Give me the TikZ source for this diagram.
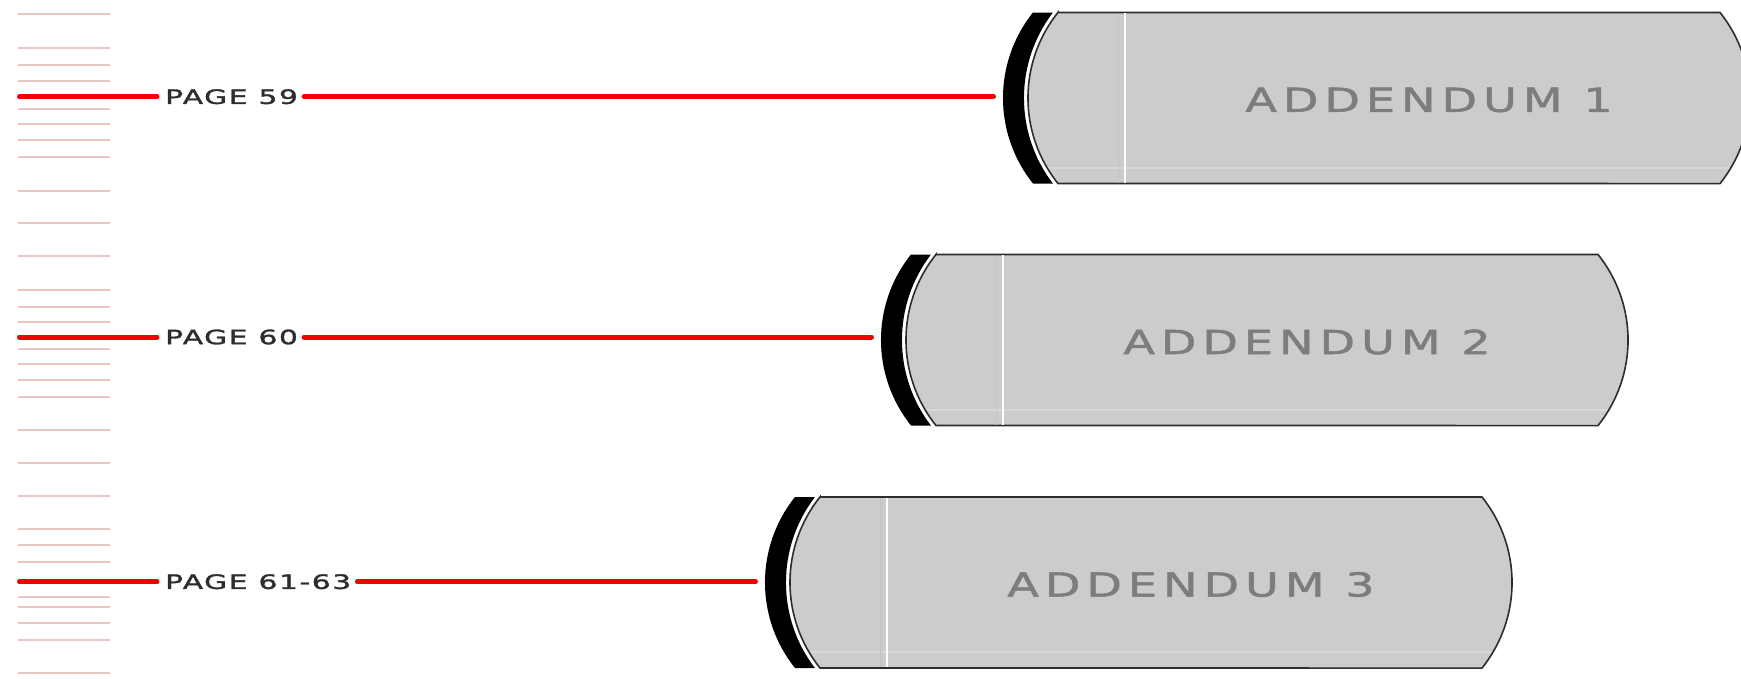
\documentclass[tikz,border=0pt]{standalone}
\usepackage{fontspec}
\newfontfamily\pagefont[FakeStretch=1.5,FakeBold=1.6,LetterSpace=8]{DejaVu Sans}
\newfontfamily\addfont[FakeStretch=1.4,FakeBold=1.5,LetterSpace=18]{DejaVu Sans}
\definecolor{redline}{RGB}{240,0,0}
\definecolor{tickc}{RGB}{236,196,196}
\definecolor{boxfill}{RGB}{204,204,204}
\definecolor{boxedge}{RGB}{45,45,45}
\definecolor{addtext}{RGB}{125,125,125}
\definecolor{pagetext}{RGB}{45,45,45}
\definecolor{bandc}{RGB}{216,216,216}
\definecolor{faintv}{RGB}{196,196,196}
\begin{document}
\begin{tikzpicture}[x=1pt,y=-1pt,
  redconn/.style={draw=redline,line width=5pt,line cap=round},
  ticklinestyle/.style={draw=tickc,line width=1.6pt},
  pagelabel/.style={inner xsep=8pt,inner ysep=0pt,font=\pagefont\fontsize{19.8}{20}\selectfont,text=pagetext},
  addlabel/.style={inner sep=0pt,font=\addfont\fontsize{33}{34}\selectfont,text=addtext},
  grayshape/.style={fill=boxfill,draw=boxedge,line width=1.6pt},
  crescentshape/.style={fill=black},
  innerline/.style={draw=white,line width=1.6pt},
  bandline/.style={draw=bandc,line width=2pt},
  faintline/.style={draw=faintv,line width=1pt}]
\fill[white] (0,0) rectangle (1741,678);
\useasboundingbox (0,0) rectangle (1741,678);
% tick marks
\foreach \y in {14,48,65,81,109,124,140,157,191,223,256,290,307,322,349,364,380,397,430,463,496,529,545,562,597,607,623,640,673}
  \draw[ticklinestyle] (18,\y) -- (110,\y);
% rows
\foreach \L/\T/\ly/\n/\pg/\ad in {1028/12.5/96.7/1/PAGE 59/ADDENDUM 1,906/254.5/337/2/PAGE 60/ADDENDUM 2,790/497/581.7/3/PAGE 61-63/ADDENDUM 3}{
  \fill[crescentshape] (\L+5,\T) -- (\L+24.9,\T) arc[start angle=217.4,end angle=142.6,radius=140.8]
     -- (\L+5,\T+171) arc[start angle=141.3,end angle=218.7,radius=136.8] -- cycle;
  \path[grayshape] (\L+30,\T) -- (\L+692,\T) arc[start angle=-38.7,end angle=38.7,radius=136.8]
     -- (\L+30,\T+171) arc[start angle=141.3,end angle=218.7,radius=136.8] -- cycle;
  \draw[bandline] (\L+21,\T+155) -- (\L+701,\T+155);
  \draw[faintline] (\L+90,\T+1) -- (\L+90,\T+170);
  \draw[innerline] (\L+97,\T+0.8) -- (\L+97,\T+170.2);
  \node[addlabel] (a\n) at (\L+401,\T+87.5) {\ad};
  \node[pagelabel,anchor=west] (p\n) at (157,\ly) {\pg};
  \coordinate (s\n) at (19.5,\ly);
  \coordinate (c\n) at (\L-25,\ly);
  \draw[redconn] (s\n) -- (p\n.west);
  \draw[redconn,shorten <=-2pt,shorten >=9.5pt] (p\n.east) -- (c\n);
}
\end{tikzpicture}
\end{document}
